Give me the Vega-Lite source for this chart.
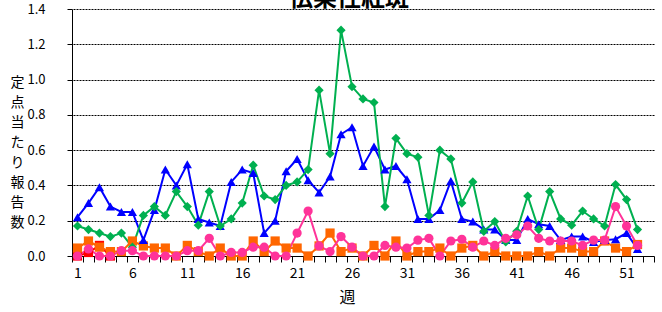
{
  "$schema": "https://vega.github.io/schema/vega-lite/v6.json",
  "autosize": {"type": "none"},
  "width": 582,
  "height": 247,
  "padding": {"left": 72, "top": 9, "right": 8, "bottom": 56},
  "background": "white",
  "title": {"text": "伝染性紅斑", "anchor": "middle", "offset": -8, "dx": -14, "fontSize": 24, "font": "Noto Sans CJK JP", "fontWeight": "bold", "color": "black"},
  "config": {"view": {"stroke": null}, "font": "Noto Sans CJK JP"},
  "data": {"values": [
    {"w":1,"b":0.22,"g":0.17,"p":0,"o":0.045,"r":0},
    {"w":2,"b":0.30,"g":0.15,"p":0.04,"o":0.085,"r":0.02},
    {"w":3,"b":0.39,"g":0.13,"p":0,"o":0.05,"r":0.06},
    {"w":4,"b":0.28,"g":0.11,"p":0,"o":0.025,"r":0},
    {"w":5,"b":0.25,"g":0.13,"p":0.03,"o":0.025},
    {"w":6,"b":0.25,"g":0.05,"p":0.03,"o":0.085},
    {"w":7,"b":0.09,"g":0.23,"p":0,"o":0.057},
    {"w":8,"b":0.26,"g":0.28,"p":0,"o":0.045},
    {"w":9,"b":0.49,"g":0.23,"p":0,"o":0.045},
    {"w":10,"b":0.40,"g":0.365,"p":0,"o":0},
    {"w":11,"b":0.52,"g":0.28,"p":0.03,"o":0.06},
    {"w":12,"b":0.21,"g":0.175,"p":0.03,"o":0.025},
    {"w":13,"b":0.19,"g":0.365,"p":0.10,"o":0},
    {"w":14,"b":0.17,"g":0.17,"p":0,"o":0.045},
    {"w":15,"b":0.42,"g":0.21,"p":0.02,"o":0},
    {"w":16,"b":0.49,"g":0.30,"p":0.02,"o":0},
    {"w":17,"b":0.47,"g":0.515,"p":0.05,"o":0.085},
    {"w":18,"b":0.13,"g":0.34,"p":0.05,"o":0.025},
    {"w":19,"b":0.20,"g":0.32,"p":0,"o":0.085},
    {"w":20,"b":0.48,"g":0.40,"p":0,"o":0.045},
    {"w":21,"b":0.55,"g":0.42,"p":0.13,"o":0.045},
    {"w":22,"b":0.43,"g":0.49,"p":0.255,"o":0},
    {"w":23,"b":0.36,"g":0.94,"p":0.057,"o":0.057},
    {"w":24,"b":0.45,"g":0.58,"p":0.025,"o":0.13},
    {"w":25,"b":0.69,"g":1.28,"p":0.11,"o":0.025},
    {"w":26,"b":0.73,"g":0.96,"p":0.05,"o":0.045},
    {"w":27,"b":0.51,"g":0.89,"p":0,"o":0},
    {"w":28,"b":0.62,"g":0.87,"p":0,"o":0.06},
    {"w":29,"b":0.49,"g":0.28,"p":0.06,"o":0},
    {"w":30,"b":0.51,"g":0.667,"p":0.05,"o":0.085},
    {"w":31,"b":0.435,"g":0.58,"p":0.045,"o":0},
    {"w":32,"b":0.21,"g":0.56,"p":0.09,"o":0.025},
    {"w":33,"b":0.21,"g":0.23,"p":0.10,"o":0.025},
    {"w":34,"b":0.26,"g":0.60,"p":0,"o":0.045},
    {"w":35,"b":0.425,"g":0.55,"p":0.085,"o":0},
    {"w":36,"b":0.21,"g":0.30,"p":0.095,"o":0.045},
    {"w":37,"b":0.195,"g":0.42,"p":0.05,"o":0.06},
    {"w":38,"b":0.15,"g":0.14,"p":0.085,"o":0},
    {"w":39,"b":0.15,"g":0.195,"p":0.06,"o":0.025},
    {"w":40,"b":0.09,"g":0.08,"p":0.10,"o":0},
    {"w":41,"b":0.09,"g":0.14,"p":0.12,"o":0},
    {"w":42,"b":0.21,"g":0.34,"p":0.17,"o":0},
    {"w":43,"b":0.18,"g":0.15,"p":0.10,"o":0.025},
    {"w":44,"b":0.17,"g":0.365,"p":0.085,"o":0},
    {"w":45,"b":0.09,"g":0.21,"p":0.085,"o":0.045},
    {"w":46,"b":0.11,"g":0.175,"p":0.085,"o":0.045},
    {"w":47,"b":0.11,"g":0.255,"p":0.06,"o":0.025},
    {"w":48,"b":0.08,"g":0.21,"p":0.09,"o":0.025},
    {"w":49,"b":0.09,"g":0.17,"p":0.09,"o":0.085},
    {"w":50,"b":0.095,"g":0.405,"p":0.28,"o":0.045},
    {"w":51,"b":0.13,"g":0.32,"p":0.17,"o":0.025},
    {"w":52,"b":0.04,"g":0.15,"p":0.06,"o":0.065}
  ]},
  "transform": [{"fold": ["r","o","b","g","p"], "as": ["s","v"]}],
  "encoding": {
    "x": {"field": "w", "type": "quantitative",
      "scale": {"domain": [0.5, 53.5], "nice": false, "zero": false},
      "axis": {
        "values": [0.5,1.5,2.5,3.5,4.5,5.5,6.5,7.5,8.5,9.5,10.5,11.5,12.5,13.5,14.5,15.5,16.5,17.5,18.5,19.5,20.5,21.5,22.5,23.5,24.5,25.5,26.5,27.5,28.5,29.5,30.5,31.5,32.5,33.5,34.5,35.5,36.5,37.5,38.5,39.5,40.5,41.5,42.5,43.5,44.5,45.5,46.5,47.5,48.5,49.5,50.5,51.5,52.5,53.5],
        "labelExpr": "(datum.value + 0.5) % 5 == 1 ? toString(datum.value + 0.5) : ''",
        "labelOffset": 5.49,
        "labelOverlap": false, "labelBound": false, "labelFlush": false,
        "labelFontSize": 14, "labelColor": "black", "labelPadding": 4,
        "tickSize": 6, "tickColor": "black", "domainColor": "black", "grid": false,
        "title": "週", "titleFontSize": 16, "titleFontWeight": "normal", "titleColor": "black",
        "titleX": 275, "titleY": 41, "titleBaseline": "middle", "titleAlign": "center"
      }
    }
  },
  "layer": [
    {
      "mark": {"type": "line", "strokeOpacity": 0, "strokeWidth": 0},
      "encoding": {
        "y": {"field": "v", "type": "quantitative",
          "scale": {"domain": [0, 1.4], "nice": false},
          "axis": {
            "orient": "right", "values": [0.2,0.4,0.6,0.8,1.0,1.2,1.4],
            "labels": false, "domain": false, "grid": false, "title": null,
            "ticks": true, "tickSize": -582, "tickColor": "#000000", "tickDash": [2,1], "tickWidth": 1, "tickOpacity": 1
          }
        }
      }
    },
    {
      "mark": {"type": "line", "strokeWidth": 2, "point": {"filled": true, "size": 85, "opacity": 1}},
      "encoding": {
        "y": {"field": "v", "type": "quantitative",
          "scale": {"domain": [0, 1.4], "nice": false},
          "axis": {
            "orient": "left",
            "values": [0,0.2,0.4,0.6,0.8,1.0,1.2,1.4], "format": ".1f",
            "grid": false,
            "tickSize": 5, "tickColor": "black", "domainColor": "black",
            "labelFontSize": 13, "labelColor": "black", "labelPadding": 22,
            "title": ["定","点","当","た","り","報","告","数"],
            "titleAngle": 0, "titleLineHeight": 20, "titleFontSize": 14, "titleFontWeight": "normal", "titleColor": "black",
            "titleX": -55, "titleY": 66, "titleAlign": "center", "titleBaseline": "top"
          }
        },
        "color": {"field": "s", "type": "nominal", "legend": null,
          "scale": {"domain": ["r","o","b","g","p"], "range": ["#FF0000","#FF6600","#0000FF","#00B050","#FF3399"]}},
        "shape": {"field": "s", "type": "nominal", "legend": null,
          "scale": {"domain": ["r","o","b","g","p"], "range": ["square","square","triangle-up","diamond","circle"]}}
      }
    }
  ],
  "resolve": {"axis": {"y": "independent"}}
}
